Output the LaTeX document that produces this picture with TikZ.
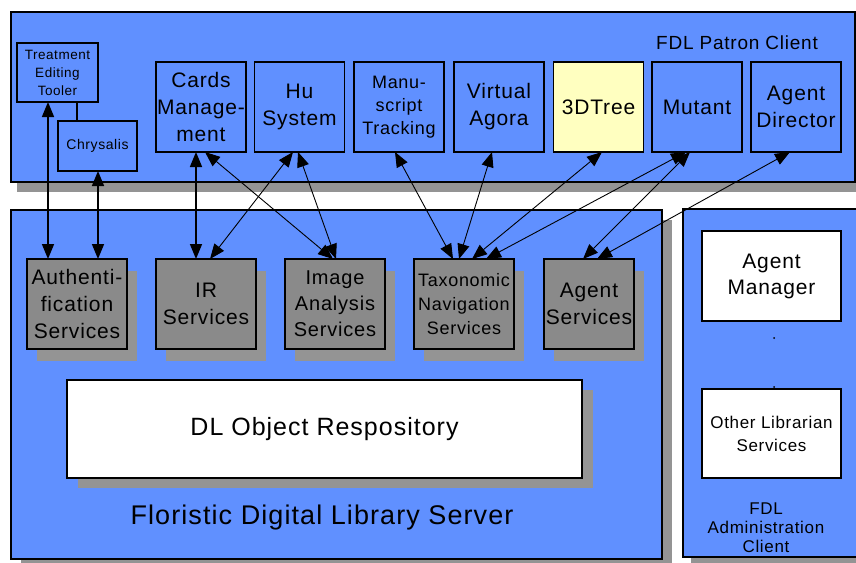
\documentclass[tikz,border=0pt]{standalone}
\usepackage{fontspec}
\setmainfont{Liberation Sans}[LetterSpace=4]
\usetikzlibrary{arrows.meta,shadows}
\definecolor{panelblue}{RGB}{96,144,255}
\definecolor{svcgray}{RGB}{138,138,138}
\definecolor{shadowgray}{RGB}{148,148,148}
\definecolor{treeyellow}{RGB}{255,255,192}
\begin{document}
\begin{tikzpicture}[x=1pt,y=-1pt,
  panel/.style={draw=black, line width=1.3pt, fill=panelblue, inner sep=0pt, outer sep=0pt, anchor=north west},
  box/.style={draw=black, line width=1.3pt, inner sep=0pt, outer sep=0pt, align=center},
  clientbox/.style={box, fill=panelblue, minimum width=90pt, minimum height=90pt, font=\fontsize{21}{27}\selectfont},
  svcbox/.style={box, fill=svcgray, minimum width=100pt, minimum height=90pt, font=\fontsize{21}{27}\selectfont,
    drop shadow={shadow xshift=10pt, shadow yshift=-12pt, fill=shadowgray, opacity=1}},
  whitebox/.style={box, fill=white},
  lbl/.style={inner sep=0pt, align=center},
  link/.style={{Triangle[length=15pt,width=12pt]}-{Triangle[length=15pt,width=12pt]}, line width=0.9pt},
  vlink/.style={link, line width=1.6pt},
  plain/.style={line width=1.3pt}
]
\useasboundingbox (0,0) rectangle (856,562);
\clip (0,0) rectangle (856,562);

% panels
\node[panel, minimum width=844pt, minimum height=170pt,
  drop shadow={shadow xshift=6pt, shadow yshift=-10pt, fill=shadowgray, opacity=1}] (patron) at (11,12) {};
\node[panel, minimum width=651pt, minimum height=349pt,
  drop shadow={shadow xshift=10pt, shadow yshift=-10pt, fill=shadowgray, opacity=1}] (server) at (11,210) {};
\node[panel, minimum width=176pt, minimum height=348pt,
  drop shadow={shadow xshift=8pt, shadow yshift=-8pt, fill=shadowgray, opacity=1}] (admin) at (683,209) {};

% panel titles
\node[lbl, font=\fontsize{19}{23}\selectfont] (patrontitle) at (737,43) {FDL Patron Client};
\node[lbl, font=\fontsize{27}{32}\selectfont] (servertitle) at (322,518) {Floristic Digital Library Server};
\node[lbl, font=\fontsize{17}{19}\selectfont] (admintitle) at (766,528) {FDL\\Administration\\Client};

% patron client tools
\node[box, fill=panelblue, minimum width=81pt, minimum height=59pt, font=\fontsize{13.5}{18}\selectfont] (treat) at (57.5,72.5) {Treatment\\Editing\\Tooler};
\node[box, fill=panelblue, minimum width=79pt, minimum height=50pt, font=\fontsize{14}{18}\selectfont] (chrys) at (97.5,146) {Chrysalis};
\draw[plain] ([xshift=19.5pt]treat.south) -- ([xshift=19.5pt]treat.south |- chrys.north);

\node[clientbox] (cards) at (201,107) {Cards\\Manage-\\ment};
\node[clientbox] (hu) at (299.5,107) {Hu\\System};
\node[clientbox, font=\fontsize{18}{23}\selectfont] (manu) at (399,107) {Manu-\\script\\Tracking};
\node[clientbox] (agora) at (499,107) {Virtual\\Agora};
\node[clientbox, fill=treeyellow] (tree) at (598.5,107) {3DTree};
\node[clientbox] (mutant) at (697,107) {Mutant};
\node[clientbox] (director) at (796,107) {Agent\\Director};

% server services
\node[svcbox] (auth) at (77,304) {Authenti-\\fication\\Services};
\node[svcbox] (ir) at (206,304) {IR\\Services};
\node[svcbox, font=\fontsize{20}{26}\selectfont] (image) at (335,304) {Image\\Analysis\\Services};
\node[svcbox, font=\fontsize{18}{24}\selectfont] (taxo) at (464,304) {Taxonomic\\Navigation\\Services};
\node[svcbox, minimum width=90pt] (agentsvc) at (589,304) {Agent\\Services};

\node[whitebox, minimum width=515pt, minimum height=98pt, font=\fontsize{25}{30}\selectfont,
  drop shadow={shadow xshift=11pt, shadow yshift=-10pt, fill=shadowgray, opacity=1}] (repo) at (324.5,429) {DL Object Respository};

% administration client
\node[whitebox, minimum width=139pt, minimum height=90pt, font=\fontsize{21}{26}\selectfont] (agentmgr) at (771.5,276) {Agent\\Manager};
\node[whitebox, minimum width=139pt, minimum height=89pt, font=\fontsize{17}{23}\selectfont] (otherlib) at (771.5,433.5) {Other Librarian\\Services};
\fill (774,338) circle (1pt);
\fill (774,387) circle (1pt);

% connections
\draw[vlink] (treat.south -| 48,0) -- (auth.north -| 48,0);
\draw[vlink] (chrys.south -| 98,0) -- (auth.north -| 98,0);
\draw[vlink] (cards.south -| 196,0) -- (ir.north -| 196,0);
\draw[link] (cards.south -| 205,0) -- (image.north -| 333,0);
\draw[link] (hu.south -| 293,0) -- (ir.north -| 210,0);
\draw[link] (hu.south -| 298,0) -- (image.north -| 336,0);
\draw[link] (manu.south -| 395,0) -- (taxo.north -| 453,0);
\draw[link] (agora.south -| 492,0) -- (taxo.north -| 459,0);
\draw[link] (tree.south -| 602,0) -- (taxo.north -| 472,0);
\draw[link] (mutant.south -| 686,0) -- (taxo.north -| 486,0);
\draw[link] (mutant.south -| 690,0) -- (agentsvc.north -| 583,0);
\draw[link] (director.south -| 790,0) -- (agentsvc.north -| 597,0);
\end{tikzpicture}
\end{document}
